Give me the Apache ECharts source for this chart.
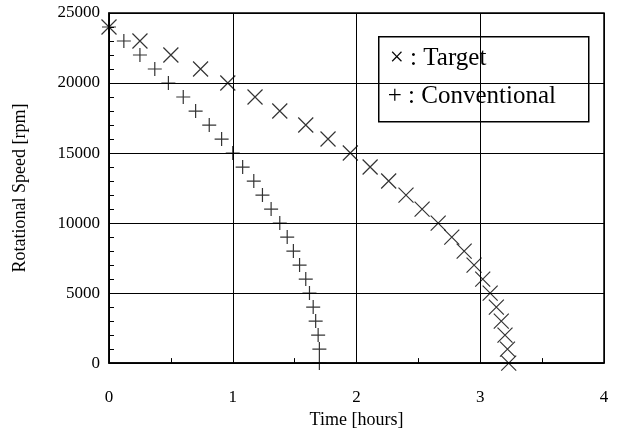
<!DOCTYPE html>
<html>
<head>
<meta charset="utf-8">
<script src="https://cdn.jsdelivr.net/npm/echarts@6/dist/echarts.min.js"></script>
<style>
  html, body { margin: 0; padding: 0; background: #fff; }
  #chart { width: 623px; height: 434px; }
</style>
</head>
<body>
<div id="chart"></div>
<script>
// Rotational speed steps shared by both runs [rpm]
var speeds = [24000, 23000, 22000, 21000, 20000, 19000, 18000, 17000, 16000, 15000,
              14000, 13000, 12000, 11000, 10000, 9000, 8000, 7000, 6000, 5000,
              4000, 3000, 2000, 1000, 0];
// Elapsed time at which each speed step was reached [hours]
var targetHours = [0, 0.25, 0.50, 0.74, 0.96, 1.18, 1.38, 1.59, 1.77, 1.95,
                   2.11, 2.26, 2.40, 2.53, 2.66, 2.77, 2.87, 2.95, 3.02, 3.08,
                   3.13, 3.17, 3.20, 3.22, 3.23];
var conventionalHours = [0, 0.12, 0.25, 0.37, 0.48, 0.60, 0.70, 0.81, 0.91, 1.00,
                         1.08, 1.17, 1.24, 1.31, 1.38, 1.44, 1.49, 1.54, 1.59, 1.62,
                         1.65, 1.67, 1.69, 1.70, 1.70];
var xTicks = [0, 1, 2, 3, 4];
var yTicks = [0, 5000, 10000, 15000, 20000, 25000];

var serif = '"Liberation Serif", "Times New Roman", serif';

function pairs(xs, ys) {
  return xs.map(function (x, i) { return [x, ys[i]]; });
}

var crossPath = 'path://M0,0L10,10M10,0L0,10';
var plusPath = 'path://M5,0L5,10M0,5L10,5';

var chart = echarts.init(document.getElementById('chart'), null, { renderer: 'canvas' });
chart.setOption({
  animation: false,
  backgroundColor: '#fff',
  grid: {
    left: 109, top: 13, width: 495, height: 355.5,
    show: true, borderColor: '#000', borderWidth: 1.5, backgroundColor: 'transparent'
  },
  xAxis: {
    type: 'value',
    min: xTicks[0], max: xTicks[xTicks.length - 1], interval: 1,
    name: 'Time [hours]', nameLocation: 'middle', nameGap: 42,
    nameTextStyle: { fontFamily: serif, fontSize: 18, color: '#000' },
    axisLine: { show: true, lineStyle: { color: '#000', width: 1.5 } },
    axisTick: { show: true, inside: true, length: 5, lineStyle: { color: '#000', width: 1 } },
    minorTick: { show: true, splitNumber: 2, length: 5, lineStyle: { color: '#000', width: 1 } },
    axisLabel: { fontFamily: serif, fontSize: 17, color: '#000', margin: 26,
                 formatter: function (v) { return String(v); } },
    splitLine: { show: true, lineStyle: { color: '#000', width: 1 } }
  },
  yAxis: {
    type: 'value',
    min: yTicks[0], max: yTicks[yTicks.length - 1], interval: 5000,
    name: 'Rotational Speed [rpm]', nameLocation: 'middle', nameGap: 80,
    nameTextStyle: { fontFamily: serif, fontSize: 18, color: '#000' },
    axisLine: { show: true, lineStyle: { color: '#000', width: 1.5 } },
    axisTick: { show: true, inside: true, length: 5, lineStyle: { color: '#000', width: 1 } },
    minorTick: { show: true, splitNumber: 5, length: 5, lineStyle: { color: '#000', width: 1 } },
    axisLabel: { fontFamily: serif, fontSize: 17, color: '#000', margin: 9,
                 formatter: function (v) { return String(v); } },
    splitLine: { show: true, lineStyle: { color: '#000', width: 1 } }
  },
  series: [
    {
      name: 'Target', type: 'scatter', clip: false,
      symbol: crossPath, symbolSize: 15,
      itemStyle: { color: 'transparent', borderColor: '#000', borderWidth: 1.2 },
      data: pairs(targetHours, speeds)
    },
    {
      name: 'Conventional', type: 'scatter', clip: false,
      symbol: plusPath, symbolSize: 14,
      itemStyle: { color: 'transparent', borderColor: '#000', borderWidth: 1.2 },
      data: pairs(conventionalHours, speeds)
    }
  ],
  graphic: [
    {
      type: 'group', left: 378, top: 36,
      children: [
        { type: 'rect', shape: { x: 0, y: 0, width: 210, height: 85 },
          style: { fill: '#fff', stroke: '#000', lineWidth: 1.5 } },
        { type: 'text', x: 11, y: 22,
          style: { text: '\u00d7 : Target', font: '25px ' + serif, fill: '#000', textVerticalAlign: 'middle' } },
        { type: 'text', x: 9, y: 60,
          style: { text: '+ : Conventional', font: '25px ' + serif, fill: '#000', textVerticalAlign: 'middle' } }
      ]
    }
  ]
});
</script>
</body>
</html>
